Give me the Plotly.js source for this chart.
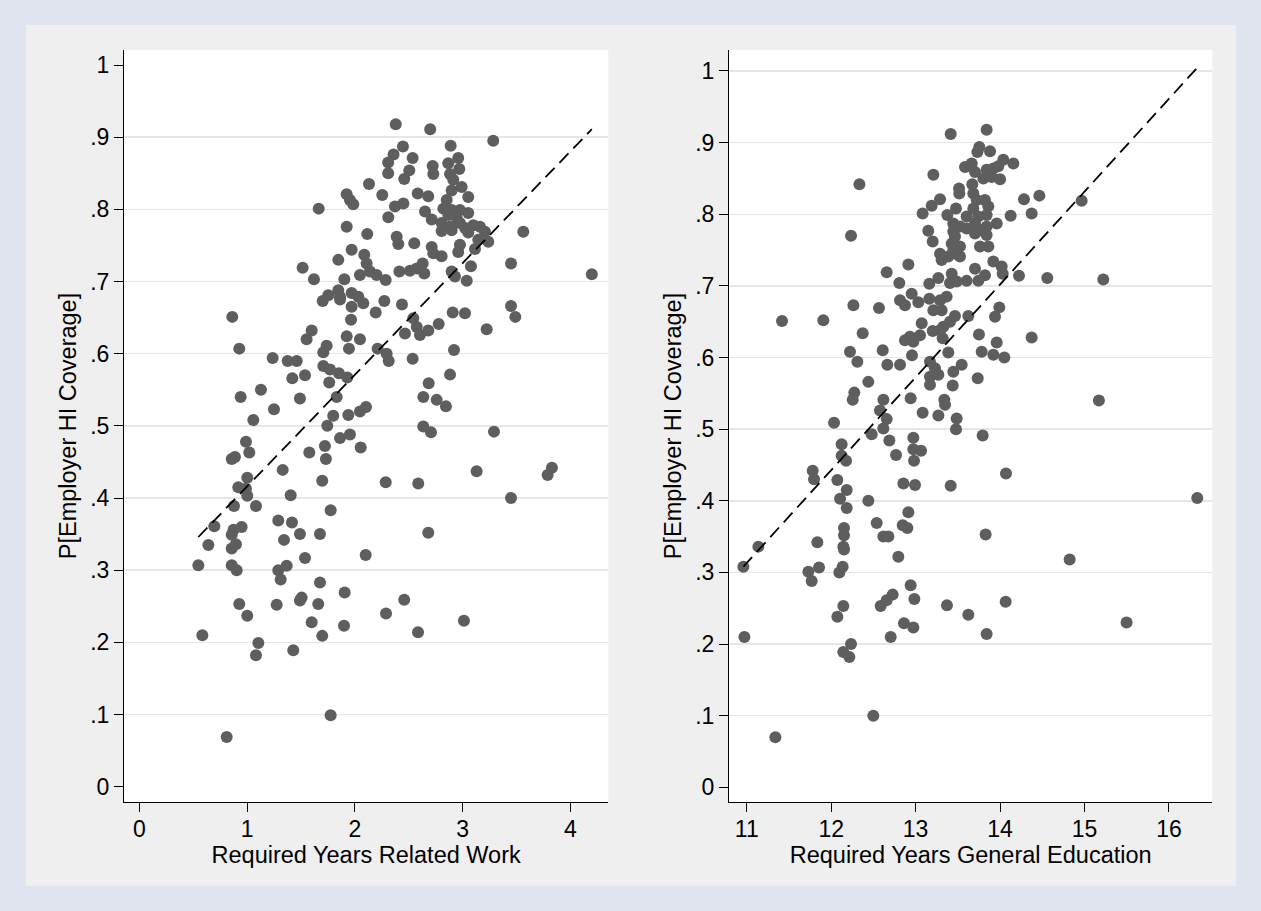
<!DOCTYPE html>
<html>
<head>
<meta charset="utf-8">
<script src="https://cdn.plot.ly/plotly-3.0.1.min.js"></script>
<style>html,body{margin:0;padding:0;background:#dfe4ee;}#chart{width:1261px;height:911px;}</style>
</head>
<body>
<div id="chart"></div>
<script>
// ---------------- DATA ----------------
// Left panel: Required Years Related Work vs P[Employer HI Coverage]
const workX = [
2.38,2.70,3.285,2.447,2.89,2.36,2.31,2.31,2.537,2.506,2.459,2.723,2.729,
2.96,2.868,2.97,2.884,2.914,2.992,2.899,3.053,2.132,2.255,2.584,2.682,
1.925,1.955,1.986,1.665,2.373,2.451,2.311,2.652,2.714,
2.853,2.822,2.899,2.976,3.053,2.868,2.946,2.806,2.884,2.976,3.023,3.1,3.162,2.806,2.899,3.053,3.208,3.239,3.146,
3.564,1.925,2.116,2.389,2.404,2.552,2.714,2.729,2.806,2.976,2.96,3.116,1.971,1.847,
2.088,2.11,2.141,2.048,2.203,2.287,1.516,1.621,1.903,
2.414,2.512,2.575,2.63,2.645,2.899,2.93,3.078,3.039,3.45,
1.754,1.847,1.863,1.971,2.033,1.702,1.863,2.079,1.971,2.274,2.438,2.194,1.965,
2.543,2.575,2.466,2.605,2.682,2.779,2.909,3.023,3.45,3.49,3.224,0.863,
1.6,1.553,1.739,1.708,1.925,2.048,1.946,2.212,2.296,2.315,2.537,2.921,2.884,2.686,
0.928,1.238,1.377,1.461,1.708,1.77,1.853,1.93,1.42,1.538,1.763,1.129,0.941,1.491,1.832,2.636,2.76,
2.846,1.25,1.058,1.8,1.94,2.048,2.104,1.745,1.863,1.955,2.055,1.723,1.732,1.578,0.99,0.888,0.858,1.021,
1.331,1.698,1.002,0.919,0.99,1.002,1.405,0.879,1.083,1.776,0.696,0.875,0.95,0.858,0.897,0.858,0.641,0.548,
0.858,0.904,1.29,1.417,1.491,1.677,1.343,1.538,2.101,1.29,1.368,1.312,1.677,1.906,1.507,1.491,1.661,1.275,
0.928,1.002,1.6,1.698,1.9,0.585,1.105,1.083,1.429,2.287,2.589,2.682,3.131,3.292,3.45,2.636,2.707,
2.29,2.459,2.587,3.013,1.776,0.811,4.2,3.79,3.83
];
const workY = [
0.918,0.911,0.895,0.887,0.888,0.876,0.865,0.850,0.871,0.854,0.842,0.860,0.849,
0.871,0.864,0.856,0.849,0.841,0.831,0.826,0.817,0.835,0.820,0.822,0.818,
0.821,0.813,0.807,0.801,0.804,0.808,0.789,0.797,0.786,
0.813,0.801,0.799,0.799,0.795,0.792,0.788,0.781,0.776,0.781,0.774,0.778,0.776,0.770,0.771,0.768,0.769,0.755,0.758,
0.769,0.776,0.766,0.762,0.752,0.753,0.748,0.739,0.735,0.751,0.741,0.745,0.744,0.730,
0.737,0.725,0.714,0.709,0.709,0.702,0.719,0.703,0.703,
0.714,0.715,0.718,0.725,0.711,0.714,0.707,0.721,0.701,0.725,
0.681,0.688,0.679,0.684,0.679,0.673,0.675,0.670,0.665,0.673,0.668,0.657,0.647,
0.649,0.637,0.628,0.626,0.632,0.641,0.657,0.656,0.666,0.651,0.634,0.651,
0.632,0.620,0.611,0.602,0.624,0.620,0.607,0.607,0.600,0.590,0.593,0.605,0.571,0.559,
0.607,0.594,0.590,0.590,0.583,0.578,0.573,0.567,0.566,0.570,0.560,0.550,0.540,0.538,0.540,0.540,0.536,
0.527,0.523,0.508,0.514,0.515,0.520,0.526,0.500,0.483,0.488,0.470,0.472,0.454,0.463,0.478,0.457,0.454,0.463,
0.439,0.424,0.428,0.415,0.413,0.403,0.404,0.389,0.389,0.383,0.361,0.356,0.360,0.349,0.336,0.330,0.335,0.307,
0.307,0.300,0.369,0.366,0.350,0.350,0.342,0.317,0.321,0.300,0.306,0.287,0.283,0.269,0.262,0.258,0.253,0.252,
0.253,0.237,0.228,0.209,0.223,0.210,0.199,0.182,0.189,0.422,0.420,0.352,0.437,0.492,0.400,0.499,0.491,
0.240,0.259,0.214,0.230,0.099,0.069,0.710,0.432,0.442
];
// fitted line (left)
const workFitX = [0.548, 4.2];
const workFitY = [0.346, 0.911];

// Right panel: Required Years General Education vs P[Employer HI Coverage]
const eduX = [
13.415,13.841,13.754,13.731,13.881,14.038,14.157,13.585,13.664,13.703,
13.841,13.92,13.979,13.802,13.9,14.0,13.21,12.334,13.671,13.514,13.517,
13.683,13.723,13.683,13.821,13.861,13.841,13.742,13.289,13.19,13.083,13.478,13.375,
13.604,13.703,13.604,13.446,13.525,13.446,13.466,13.427,13.525,13.486,13.446,13.525,13.762,13.861,13.841,13.703,13.762,13.96,13.841,
14.125,14.283,14.465,14.374,14.966,12.235,13.15,13.202,13.289,13.308,13.387,13.92,14.019,14.031,
12.914,12.657,12.807,13.162,13.269,13.427,13.407,13.486,13.604,13.703,13.821,13.742,14.224,14.559,15.222,
12.953,12.815,12.874,13.032,13.162,13.289,13.367,13.21,13.308,12.263,12.566,11.418,11.907,
13.466,13.407,13.328,13.289,13.624,13.991,13.94,12.373,
13.072,13.052,12.933,12.874,12.973,13.202,13.32,13.75,13.96,14.374,
12.223,12.31,12.61,12.957,12.665,12.815,13.387,13.782,13.92,14.05,
13.17,13.229,13.17,13.269,13.17,13.545,13.446,13.439,13.735,12.44,12.274,12.618,12.941,13.34,15.17,
12.255,12.578,12.657,12.618,12.034,12.48,12.689,12.768,12.124,12.124,12.176,
13.083,13.269,13.348,13.486,13.478,13.794,12.973,12.973,13.064,12.981,
11.781,11.797,12.073,12.184,12.105,12.184,12.44,12.855,12.993,13.415,14.07,16.335,
12.914,12.539,12.847,12.902,12.618,12.677,12.152,12.152,12.144,12.152,11.836,11.138,10.96,
12.795,13.829,14.824,11.73,11.856,11.769,12.136,12.097,12.941,12.728,12.657,12.586,12.985,
12.144,12.073,13.371,13.624,14.066,12.862,12.973,12.705,13.841,15.498,10.972,
12.235,12.144,12.215,12.499,11.339
];
const eduY = [
0.912,0.918,0.894,0.887,0.888,0.876,0.871,0.866,0.871,0.859,
0.862,0.864,0.867,0.850,0.852,0.849,0.855,0.842,0.842,0.836,0.829,
0.829,0.820,0.808,0.820,0.811,0.799,0.797,0.821,0.812,0.801,0.808,0.799,
0.797,0.787,0.780,0.787,0.783,0.776,0.769,0.759,0.755,0.745,0.750,0.741,0.755,0.755,0.771,0.773,0.778,0.787,0.783,
0.798,0.821,0.826,0.801,0.819,0.770,0.777,0.762,0.745,0.736,0.741,0.734,0.727,0.717,
0.730,0.719,0.704,0.703,0.711,0.717,0.704,0.706,0.707,0.724,0.715,0.707,0.714,0.711,0.709,
0.689,0.680,0.673,0.677,0.682,0.680,0.685,0.666,0.666,0.673,0.669,0.651,0.652,
0.658,0.650,0.643,0.638,0.658,0.670,0.657,0.634,
0.648,0.631,0.629,0.624,0.622,0.637,0.627,0.632,0.621,0.628,
0.608,0.594,0.610,0.603,0.590,0.590,0.607,0.608,0.604,0.600,
0.594,0.585,0.573,0.576,0.562,0.590,0.580,0.561,0.571,0.566,0.551,0.541,0.543,0.541,0.540,
0.541,0.526,0.514,0.501,0.509,0.493,0.484,0.464,0.479,0.463,0.456,
0.523,0.519,0.534,0.515,0.500,0.491,0.488,0.472,0.470,0.456,
0.442,0.430,0.429,0.415,0.403,0.390,0.400,0.424,0.422,0.421,0.438,0.404,
0.384,0.369,0.366,0.362,0.350,0.350,0.362,0.352,0.336,0.332,0.342,0.336,0.308,
0.322,0.353,0.318,0.301,0.307,0.288,0.308,0.300,0.282,0.269,0.261,0.253,0.263,
0.253,0.238,0.254,0.241,0.259,0.229,0.223,0.210,0.214,0.230,0.210,
0.200,0.189,0.182,0.100,0.070
];
// fitted line (right)
const eduFitX = [10.96, 16.33];
const eduFitY = [0.308, 1.004];

// tick values and labels
const yTickVals = [0, 0.1, 0.2, 0.3, 0.4, 0.5, 0.6, 0.7, 0.8, 0.9, 1];
const yTickText = ['0', '.1', '.2', '.3', '.4', '.5', '.6', '.7', '.8', '.9', '1'];
const leftGridVals = [0.1, 0.2, 0.3, 0.4, 0.5, 0.6, 0.7, 0.8, 0.9];
const rightGridVals = [0.1, 0.2, 0.3, 0.4, 0.5, 0.6, 0.7, 0.8, 0.9, 1];
const workTickVals = [0, 1, 2, 3, 4];
const workTickText = ['0', '1', '2', '3', '4'];
const eduTickVals = [11, 12, 13, 14, 15, 16];
const eduTickText = ['11', '12', '13', '14', '15', '16'];

const yTitle = 'P[Employer HI Coverage]';
const workTitle = 'Required Years Related Work';
const eduTitle = 'Required Years General Education';

// ---------------- STYLE ----------------
const W = 1261, H = 911;
const FONT = 'Liberation Sans, Arial, Helvetica, sans-serif';
const markerColor = '#5e5e5e';
const tickFont = {family: FONT, size: 23, color: '#000'};
const titleFont = {family: FONT, size: 23.5, color: '#000'};

const px = v => v / W;
const py = v => 1 - v / H;

const yDomain = [py(802), py(50)];
const leftRange = [-0.0212, 1.0208];
const rightRange = [-0.0205, 1.0293];

function xAxisStyle(domain, range, vals, text, title, anchor) {
  return {
    domain: domain, range: range, anchor: anchor,
    tickmode: 'array', tickvals: vals, ticktext: text,
    ticks: 'outside', ticklen: 9, tickwidth: 1, tickcolor: '#000',
    ticklabelstandoff: -3,
    showline: true, linecolor: '#000', linewidth: 1,
    showgrid: false, zeroline: false, tickfont: tickFont,
    title: {text: title, font: titleFont, standoff: 4},
    fixedrange: true
  };
}
function yAxisStyle(range, anchor) {
  return {
    domain: yDomain, range: range, anchor: anchor,
    tickmode: 'array', tickvals: yTickVals, ticktext: yTickText,
    ticks: 'outside', ticklen: 9, tickwidth: 1, tickcolor: '#000',
    showline: true, linecolor: '#000', linewidth: 1,
    showgrid: false, zeroline: false, tickfont: tickFont,
    title: {text: yTitle, font: titleFont, standoff: 6},
    fixedrange: true
  };
}
function gridAxis(range, overlay, anchor, vals) {
  return {
    overlaying: overlay, anchor: anchor, range: range,
    tickmode: 'array', tickvals: vals, showticklabels: false, ticks: '',
    showline: false, zeroline: false,
    showgrid: true, gridcolor: '#e6e6e6', gridwidth: 1.5,
    fixedrange: true
  };
}

const traces = [
  {type: 'scatter', mode: 'markers', x: workX, y: workY, xaxis: 'x', yaxis: 'y',
   marker: {color: markerColor, size: 12, line: {width: 0}}, hoverinfo: 'x+y'},
  {type: 'scatter', mode: 'lines', x: workFitX, y: workFitY, xaxis: 'x', yaxis: 'y',
   line: {color: '#000', width: 1.8, dash: '13px,7px'}, hoverinfo: 'skip'},
  {type: 'scatter', mode: 'markers', x: eduX, y: eduY, xaxis: 'x2', yaxis: 'y2',
   marker: {color: markerColor, size: 12, line: {width: 0}}, hoverinfo: 'x+y'},
  {type: 'scatter', mode: 'lines', x: eduFitX, y: eduFitY, xaxis: 'x2', yaxis: 'y2',
   line: {color: '#000', width: 1.8, dash: '13px,7px'}, hoverinfo: 'skip'},
  {type: 'scatter', x: [], y: [], xaxis: 'x', yaxis: 'y3', hoverinfo: 'skip'},
  {type: 'scatter', x: [], y: [], xaxis: 'x2', yaxis: 'y4', hoverinfo: 'skip'}
];

const band = '#dfe4ee';
const layout = {
  width: W, height: H,
  margin: {l: 0, r: 0, t: 0, b: 0, pad: 0},
  paper_bgcolor: '#efefef',
  plot_bgcolor: '#ffffff',
  showlegend: false,
  font: {family: FONT, color: '#000'},
  xaxis: xAxisStyle([px(124), px(608.3)], [-0.142, 4.353], workTickVals, workTickText, workTitle, 'y'),
  yaxis: yAxisStyle(leftRange, 'x'),
  xaxis2: xAxisStyle([px(729), px(1212.3)], [10.79, 16.513], eduTickVals, eduTickText, eduTitle, 'y2'),
  yaxis2: yAxisStyle(rightRange, 'x2'),
  yaxis3: gridAxis(leftRange, 'y', 'x', leftGridVals),
  yaxis4: gridAxis(rightRange, 'y2', 'x2', rightGridVals),
  shapes: [
    {type: 'rect', xref: 'paper', yref: 'paper', x0: 0, x1: 1, y0: py(25), y1: 1, fillcolor: band, line: {width: 0}, layer: 'below'},
    {type: 'rect', xref: 'paper', yref: 'paper', x0: 0, x1: 1, y0: 0, y1: py(886), fillcolor: band, line: {width: 0}, layer: 'below'},
    {type: 'rect', xref: 'paper', yref: 'paper', x0: 0, x1: px(26), y0: 0, y1: 1, fillcolor: band, line: {width: 0}, layer: 'below'},
    {type: 'rect', xref: 'paper', yref: 'paper', x0: px(1236), x1: 1, y0: 0, y1: 1, fillcolor: band, line: {width: 0}, layer: 'below'}
  ]
};

Plotly.newPlot('chart', traces, layout, {staticPlot: true, displayModeBar: false});
</script>
</body>
</html>
